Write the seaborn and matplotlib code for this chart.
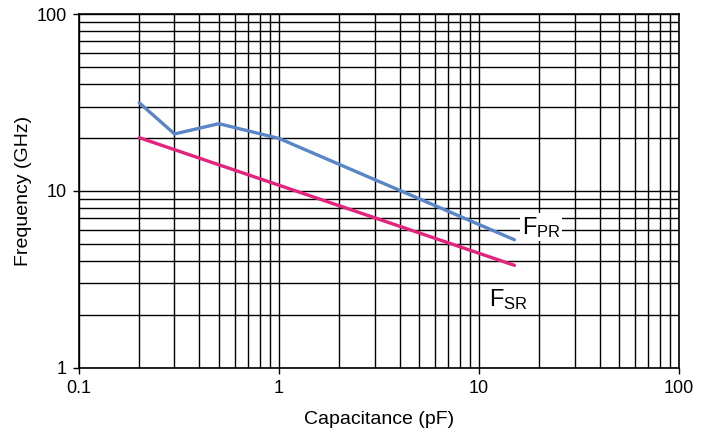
import pandas as pd
import seaborn as sns
import matplotlib.pyplot as plt
from matplotlib.ticker import LogLocator, FixedLocator, NullFormatter

# Data
cap_pr = [0.2, 0.3, 0.5, 1.0, 15.0]
freq_pr = [31.5, 21.0, 24.0, 19.8, 5.3]
cap_sr = [0.2, 15.0]
freq_sr = [20.0, 3.8]

x_ticks = [0.1, 1, 10, 100]
x_tick_labels = ["0.1", "1", "10", "100"]
y_ticks = [1, 10, 100]
y_tick_labels = ["1", "10", "100"]

df = pd.concat([
    pd.DataFrame({"cap": cap_pr, "freq": freq_pr, "series": "PR"}),
    pd.DataFrame({"cap": cap_sr, "freq": freq_sr, "series": "SR"}),
])

sns.set_style("white")
plt.rcParams["font.family"] = ["Liberation Sans", "DejaVu Sans"]
plt.rcParams["text.color"] = "black"
plt.rcParams["axes.labelcolor"] = "black"
plt.rcParams["xtick.color"] = "black"
plt.rcParams["ytick.color"] = "black"
plt.rcParams["mathtext.fontset"] = "custom"
plt.rcParams["mathtext.rm"] = "Liberation Sans"
plt.rcParams["mathtext.it"] = "Liberation Sans:italic"

fig = plt.figure(figsize=(7.12, 4.38), dpi=100)
ax = fig.add_axes([0.111, 0.160, 0.843, 0.808])

sns.lineplot(
    data=df, x="cap", y="freq", hue="series",
    palette={"PR": "#5A86C7", "SR": "#E3237C"},
    linewidth=2.4, legend=False, ax=ax, sort=False,
)

ax.set_xscale("log")
ax.set_yscale("log")
ax.set_xlim(0.1, 100)
ax.set_ylim(1, 100)

ax.xaxis.set_major_locator(FixedLocator(x_ticks))
ax.set_xticklabels(x_tick_labels)
ax.yaxis.set_major_locator(FixedLocator(y_ticks))
ax.set_yticklabels(y_tick_labels)
ax.xaxis.set_minor_locator(LogLocator(base=10, subs=range(2, 10)))
ax.yaxis.set_minor_locator(LogLocator(base=10, subs=range(2, 10)))
ax.xaxis.set_minor_formatter(NullFormatter())
ax.yaxis.set_minor_formatter(NullFormatter())

ax.grid(True, which="both", color="black", linewidth=1.0)
ax.tick_params(which="major", direction="out", length=4, width=1,
               color="black", labelsize=13, pad=5, bottom=True, left=True)
ax.tick_params(which="minor", length=0)
for side in ["left", "bottom", "top", "right"]:
    ax.spines[side].set_color("black")
    ax.spines[side].set_linewidth(1.2)

ax.set_xlabel("Capacitance (pF)", fontsize=14, labelpad=10)
ax.set_ylabel("Frequency (GHz)", fontsize=14, labelpad=3)

box = dict(facecolor="white", edgecolor="none", pad=1)
ax.text(16.3, 6.25, r"$\mathrm{F}_{\mathrm{PR}}$", fontsize=17,
        bbox=box, va="center", ha="left")
ax.text(11.2, 2.45, r"$\mathrm{F}_{\mathrm{SR}}$", fontsize=17,
        bbox=box, va="center", ha="left")

plt.savefig("out.png", dpi=100)
